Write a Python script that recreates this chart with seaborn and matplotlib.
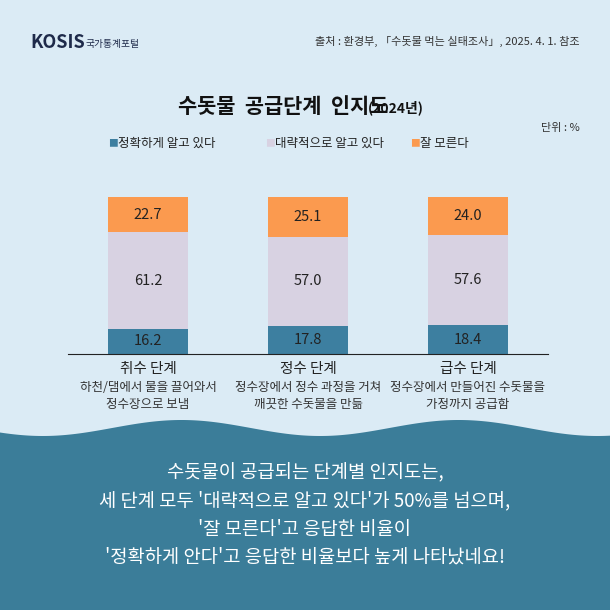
import matplotlib
matplotlib.use("Agg")
import matplotlib.pyplot as plt
import seaborn as sns
import numpy as np
import pandas as pd

plt.rcParams["font.family"] = ["Noto Sans CJK JP", "Noto Sans CJK KR", "DejaVu Sans"]

stages = ["취수 단계", "정수 단계", "급수 단계"]
descs = ["하천/댐에서 물을 끌어와서\n정수장으로 보냄", "정수장에서 정수 과정을 거쳐\n깨끗한 수돗물을 만듦", "정수장에서 만들어진 수돗물을\n가정까지 공급함"]
exact = [16.2, 17.8, 18.4]
roughly = [61.2, 57.0, 57.6]
unknown = [22.7, 25.1, 24.0]
series = ["정확하게 알고 있다", "대략적으로 알고 있다", "잘 모른다"]
colors = ["#3d7fa0", "#d8d2e2", "#fb9a4f"]

bg = "#dbebf5"
fig = plt.figure(figsize=(6.1, 6.1), dpi=100, facecolor=bg)

wax = fig.add_axes([0, 0, 1, 1]); wax.set_xlim(0, 610); wax.set_ylim(610, 0); wax.axis("off")
xs = np.linspace(0, 610, 300)
wy = 428 + 8*np.sin(xs/610*2*np.pi*2.2 + 0.6)
wax.fill_between(xs, wy, 610, color="#3b7d99", lw=0)

df = pd.DataFrame({"stage": stages, "a": exact, "b": roughly, "c": unknown})
ax = fig.add_axes([68/610, 1-354/610, 480/610, 157/610])
ax.set_facecolor(bg)
bottoms = np.zeros(3)
for key, col in zip(["a", "b", "c"], colors):
    sns.barplot(data=df, x="stage", y=key, color=col, width=0.5, bottom=bottoms, ax=ax, saturation=1, edgecolor="none")
    for i, v in enumerate(df[key]):
        ax.text(i, bottoms[i] + v/2, f"{v:.1f}", ha="center", va="center", fontsize=10.5,
                color="#222222")
    bottoms = bottoms + df[key].values
ax.set_xlim(-0.5, 2.5); ax.set_ylim(0, 100)
ax.set_xlabel(""); ax.set_ylabel(""); ax.set_yticks([])
ax.set_xticks(range(3)); ax.set_xticklabels([])
ax.tick_params(length=0)
for s in ["top", "right", "left"]:
    ax.spines[s].set_visible(False)
ax.spines["bottom"].set_color("#222222")
for i in range(3):
    ax.text(i, -5, stages[i], ha="center", va="top", fontsize=10.5, color="#222")
    ax.text(i, -17, descs[i], ha="center", va="top", fontsize=9, color="#333", linespacing=1.4)

def T(x, y, s, **k):
    fig.text(x/610, 1-y/610, s, **k)

T(30, 43, "KOSIS", fontsize=13, fontweight="bold", color="#1e2a4a", va="center")
T(86, 44, "국가통계포털", fontsize=7, color="#1e2a4a", va="center")
T(580, 41, "출처 : 환경부, 「수돗물 먹는 실태조사」, 2025. 4. 1. 참조", fontsize=8, ha="right", va="center", color="#333")
T(178, 106, "수돗물  공급단계  인지도", fontsize=15, fontweight="bold", va="center", color="#111")
T(368, 108, "(2024년)", fontsize=10, fontweight="bold", va="center", color="#111")
T(580, 128, "단위 : %", fontsize=8, ha="right", va="center", color="#333")
lx = [108, 265, 410]
for x, s, c in zip(lx, series, colors):
    T(x, 143, "■", fontsize=7, color=c, va="center")
    T(x+10, 143, s, fontsize=9, color="#222", va="center")

T(305, 515, "수돗물이 공급되는 단계별 인지도는,\n세 단계 모두 '대략적으로 알고 있다'가 50%를 넘으며,\n'잘 모른다'고 응답한 비율이\n'정확하게 안다'고 응답한 비율보다 높게 나타났네요!",
  fontsize=13.5, color="white", ha="center", va="center", linespacing=1.45)

fig.savefig("out.png", dpi=100, facecolor=bg)
